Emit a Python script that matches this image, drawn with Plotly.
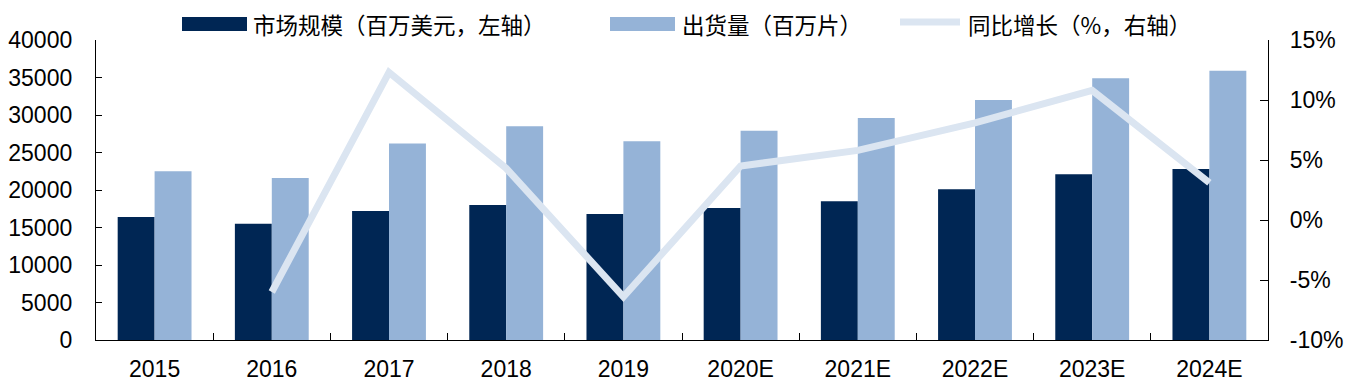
import plotly.graph_objects as go

years = ["2015", "2016", "2017", "2018", "2019", "2020E", "2021E", "2022E", "2023E", "2024E"]
market = [16400, 15500, 17200, 18000, 16800, 17600, 18500, 20100, 22100, 22800]
shipments = [22500, 21600, 26200, 28500, 26500, 27900, 29600, 32000, 34900, 35900]
growth_years = ["2016", "2017", "2018", "2019", "2020E", "2021E", "2022E", "2023E", "2024E"]
growth = [-6.0, 12.3, 4.3, -6.4, 4.5, 5.8, 8.1, 10.8, 3.1]

left_ticks = [0, 5000, 10000, 15000, 20000, 25000, 30000, 35000, 40000]
right_ticks = [-10, -5, 0, 5, 10, 15]
right_labels = ["-10%", "-5%", "0%", "5%", "10%", "15%"]

name_market = "市场规模（百万美元，左轴）"
name_ship = "出货量（百万片）"
name_growth = "同比增长（%，右轴）"

C_DARK = "#002654"
C_LIGHT = "#95b3d7"
C_LINE = "#dbe5f1"

W, H = 1356, 392
ML, MR, MT, MB = 96, 88, 40, 52
PW, PH = W - ML - MR, H - MT - MB

def px(x):
    return (x - ML) / PW

def py(y):
    return (H - MB - y) / PH

fig = go.Figure()
fig.add_trace(go.Bar(x=years, y=market, name=name_market, marker=dict(color=C_DARK, line=dict(width=0)), showlegend=False))
fig.add_trace(go.Bar(x=years, y=shipments, name=name_ship, marker=dict(color=C_LIGHT, line=dict(width=0)), showlegend=False))
fig.add_trace(go.Scatter(x=growth_years, y=growth, name=name_growth, yaxis="y2", mode="lines",
                         line=dict(color=C_LINE, width=7), showlegend=False))

tickfont = dict(family="Liberation Sans, Arial, sans-serif", size=23, color="black")
cjk = dict(family="Noto Sans CJK SC", size=22.5, color="black")

shapes = [
    dict(type="rect", xref="paper", yref="paper", x0=px(182), x1=px(247), y0=py(31), y1=py(17),
         fillcolor=C_DARK, line=dict(width=0)),
    dict(type="rect", xref="paper", yref="paper", x0=px(610), x1=px(675), y0=py(31), y1=py(17),
         fillcolor=C_LIGHT, line=dict(width=0)),
    dict(type="line", xref="paper", yref="paper", x0=px(900), x1=px(960), y0=py(22), y1=py(22),
         line=dict(color=C_LINE, width=7)),
]
annotations = [
    dict(text=name_market, xref="paper", yref="paper", x=px(251), y=py(24), xanchor="left", yanchor="middle", showarrow=False, font=cjk),
    dict(text=name_ship, xref="paper", yref="paper", x=px(680), y=py(24), xanchor="left", yanchor="middle", showarrow=False, font=cjk),
    dict(text=name_growth, xref="paper", yref="paper", x=px(966), y=py(24), xanchor="left", yanchor="middle", showarrow=False, font=cjk),
]

fig.update_layout(
    width=W, height=H,
    margin=dict(l=ML, r=MR, t=MT, b=MB, pad=0, autoexpand=False),
    paper_bgcolor="white", plot_bgcolor="white",
    barmode="group", bargap=0.37, bargroupgap=0,
    showlegend=False,
    shapes=shapes, annotations=annotations,
    xaxis=dict(type="category", showline=True, linecolor="black", linewidth=1.3,
               ticks="inside", ticklen=7, tickcolor="black", tickson="boundaries",
               tickfont=tickfont, showgrid=False, ticklabelstandoff=8, automargin=False),
    yaxis=dict(range=[0, 40000], tickvals=left_ticks, showline=True, linecolor="black", linewidth=1.3,
               ticks="inside", ticklen=6, tickcolor="black", tickfont=tickfont,
               showgrid=False, zeroline=False, ticklabelstandoff=18, tickformat="d", automargin=False),
    yaxis2=dict(range=[-10, 15], tickvals=right_ticks, ticktext=right_labels, overlaying="y", side="right",
                showline=True, linecolor="black", linewidth=1.3, ticks="inside", ticklen=8, tickcolor="black",
                tickfont=tickfont, showgrid=False, zeroline=False,
                ticklabelstandoff=16, automargin=False),
)

fig.write_html("out.html", config={"displayModeBar": False},
               post_script="document.body.style.margin='0px';document.body.style.overflow='hidden';")
